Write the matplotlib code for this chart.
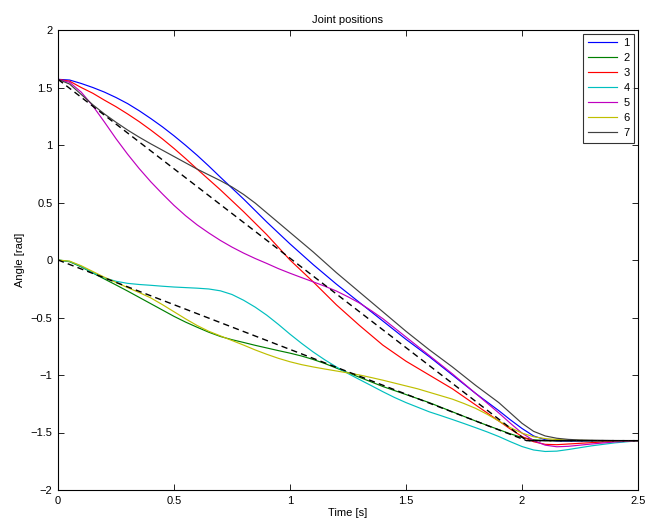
import matplotlib
matplotlib.use("Agg")
import matplotlib.pyplot as plt
import numpy as np

# time samples
t = [0.00, 0.05, 0.10, 0.15, 0.20, 0.25, 0.30, 0.35, 0.40, 0.45,
     0.50, 0.55, 0.60, 0.65, 0.70, 0.75, 0.80, 0.85, 0.90, 0.95,
     1.00, 1.05, 1.10, 1.15, 1.20, 1.25, 1.30, 1.35, 1.40, 1.45,
     1.50, 1.55, 1.60, 1.65, 1.70, 1.75, 1.80, 1.85, 1.90, 1.95,
     2.00, 2.05, 2.10, 2.15, 2.20, 2.25, 2.30,
     2.40, 2.50]

q1 = [1.571, 1.565, 1.535, 1.50, 1.46, 1.413, 1.36, 1.298, 1.23, 1.158,
      1.08, 0.997, 0.91, 0.817, 0.72, 0.625, 0.53, 0.43, 0.33, 0.235,
      0.14, 0.05, -0.04, -0.125, -0.21, -0.29, -0.37, -0.45, -0.53, -0.61,
      -0.69, -0.765, -0.84, -0.92, -1.00, -1.08, -1.16, -1.235, -1.31, -1.39,
      -1.465, -1.53, -1.563, -1.574, -1.575, -1.574, -1.573,
      -1.571, -1.571]
q2 = [0.0, -0.015, -0.06, -0.113, -0.165, -0.217, -0.27, -0.325, -0.38, -0.435,
      -0.49, -0.54, -0.585, -0.628, -0.665, -0.693, -0.717, -0.742, -0.765, -0.788,
      -0.81, -0.835, -0.865, -0.90, -0.94, -0.98, -1.02, -1.06, -1.10, -1.135,
      -1.17, -1.205, -1.24, -1.28, -1.32, -1.36, -1.40, -1.438, -1.475, -1.512,
      -1.543, -1.563, -1.571, -1.571, -1.571, -1.571, -1.571,
      -1.571, -1.571]
q3 = [1.571, 1.555, 1.50, 1.45, 1.39, 1.333, 1.27, 1.203, 1.13, 1.053,
      0.97, 0.882, 0.79, 0.70, 0.61, 0.515, 0.42, 0.32, 0.22, 0.11,
      0.0, -0.095, -0.19, -0.29, -0.39, -0.48, -0.57, -0.655, -0.74, -0.81,
      -0.88, -0.94, -1.00, -1.06, -1.12, -1.19, -1.26, -1.33, -1.40, -1.47,
      -1.535, -1.58, -1.603, -1.606, -1.60, -1.594, -1.588,
      -1.577, -1.571]
q4 = [0.0, -0.012, -0.055, -0.11, -0.155, -0.185, -0.203, -0.213, -0.22, -0.228,
      -0.235, -0.24, -0.245, -0.252, -0.268, -0.30, -0.35, -0.41, -0.48, -0.56,
      -0.645, -0.725, -0.80, -0.868, -0.93, -0.987, -1.04, -1.092, -1.145, -1.195,
      -1.24, -1.28, -1.32, -1.353, -1.387, -1.422, -1.458, -1.495, -1.535, -1.58,
      -1.622, -1.652, -1.665, -1.662, -1.648, -1.632, -1.616,
      -1.59, -1.572]
q5 = [1.571, 1.545, 1.46, 1.34, 1.20, 1.055, 0.92, 0.795, 0.68, 0.575,
      0.475, 0.385, 0.305, 0.235, 0.17, 0.112, 0.06, 0.013, -0.03, -0.075,
      -0.115, -0.153, -0.19, -0.228, -0.27, -0.32, -0.375, -0.44, -0.51, -0.59,
      -0.67, -0.75, -0.83, -0.91, -0.99, -1.075, -1.16, -1.245, -1.33, -1.42,
      -1.505, -1.57, -1.61, -1.624, -1.62, -1.61, -1.60,
      -1.582, -1.572]
q6 = [0.0, -0.01, -0.05, -0.10, -0.15, -0.195, -0.24, -0.283, -0.33, -0.388,
      -0.45, -0.512, -0.57, -0.62, -0.66, -0.70, -0.74, -0.782, -0.82, -0.855,
      -0.885, -0.91, -0.93, -0.948, -0.965, -0.982, -1.00, -1.022, -1.045, -1.07,
      -1.095, -1.12, -1.15, -1.18, -1.21, -1.248, -1.29, -1.342, -1.40, -1.458,
      -1.505, -1.537, -1.553, -1.561, -1.566, -1.568, -1.57,
      -1.571, -1.571]
q7 = [1.571, 1.53, 1.44, 1.35, 1.27, 1.198, 1.13, 1.068, 1.01, 0.955,
      0.90, 0.845, 0.79, 0.74, 0.69, 0.635, 0.57, 0.495, 0.41, 0.325,
      0.24, 0.155, 0.07, -0.02, -0.11, -0.195, -0.28, -0.365, -0.45, -0.535,
      -0.62, -0.70, -0.78, -0.855, -0.93, -1.01, -1.09, -1.165, -1.24, -1.33,
      -1.42, -1.49, -1.53, -1.55, -1.56, -1.565, -1.567,
      -1.57, -1.571]

# straight reference trajectories (dashed)
t_ref = [0, 2.02, 2.5]
ref_hi = [1.5708, -1.5708, -1.5708]
ref_lo = [0.0, -1.5708, -1.5708]

labels = ["1", "2", "3", "4", "5", "6", "7"]
colors = ["#0000ff", "#008000", "#ff0000", "#00bfbf", "#bf00bf", "#bfbf00", "#404040"]

plt.rcParams["font.family"] = ["Liberation Sans", "DejaVu Sans"]
plt.rcParams["font.size"] = 8

fig = plt.figure(figsize=(6.46, 5.19), dpi=100)
ax = fig.add_axes([58 / 646, 1 - 490 / 519, 580 / 646, 460 / 519])

lines = []
for q, c, lab in zip([q1, q2, q3, q4, q5, q6, q7], colors, labels):
    ln, = ax.plot(t, q, color=c, lw=0.85, label=lab)
    lines.append(ln)

ax.plot(t_ref, ref_hi, color="black", lw=1.0, ls=(0, (4.5, 3)))
ax.plot(t_ref, ref_lo, color="black", lw=1.0, ls=(0, (4.5, 3)))

ax.set_xlim(0, 2.5)
ax.set_ylim(-2, 2)
ax.set_xticks(np.arange(0, 2.51, 0.5))
ax.set_yticks(np.arange(-2, 2.01, 0.5))
ax.set_xticklabels(["0", "0.5", "1", "1.5", "2", "2.5"])
ax.set_yticklabels(["\u22122", "\u22121.5", "\u22121", "\u22120.5", "0", "0.5", "1", "1.5", "2"])
ax.tick_params(direction="in", length=4, width=0.6, top=True, right=True, labelsize=8, pad=4)
for sp in ax.spines.values():
    sp.set_linewidth(0.8)

ax.set_title("Joint positions", fontsize=8, pad=5)
ax.set_xlabel("Time [s]", fontsize=8, labelpad=2)
ax.set_ylabel("Angle [rad]", fontsize=8, labelpad=4)

leg = ax.legend(handles=lines, loc="upper right", fontsize=8, frameon=True, fancybox=False,
                edgecolor="black", borderaxespad=0.35, labelspacing=0.45, handlelength=2.6,
                handletextpad=0.6, borderpad=0.4)
leg.get_frame().set_linewidth(0.8)

fig.savefig("out.png", dpi=100)
